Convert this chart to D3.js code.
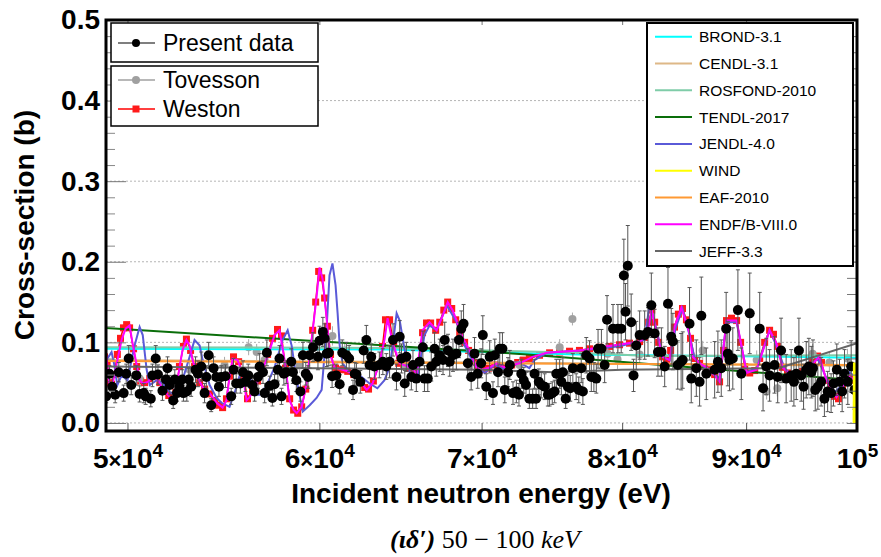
<!DOCTYPE html>
<html>
<head>
<meta charset="utf-8">
<script src="https://cdn.jsdelivr.net/npm/d3@7"></script>
<style>
body{margin:0;background:#fff}
svg{display:block}
text{font-family:"Liberation Sans",Arial,Helvetica,sans-serif}
</style>
</head>
<body>
<div id="chart"></div>
<script>
// energies in keV, cross-sections in barn
var presentData = [ // [E, sigma, err]
[49.00,0.033,0.008],[49.15,0.061,0.010],[49.28,0.045,0.012],[49.42,0.035,0.010],[49.59,0.063,0.012],
[49.82,0.037,0.010],[49.94,0.061,0.012],[50.06,0.080,0.016],[50.18,0.047,0.012],[50.42,0.059,0.012],
[50.58,0.036,0.010],[50.78,0.037,0.012],[50.87,0.033,0.010],[51.12,0.030,0.010],[51.20,0.059,0.014],
[51.36,0.080,0.016],[51.47,0.060,0.012],[51.69,0.040,0.012],[51.86,0.054,0.012],[51.94,0.068,0.014],
[52.05,0.047,0.012],[52.22,0.028,0.010],[52.30,0.054,0.012],[52.41,0.037,0.010],[52.53,0.045,0.012],
[52.67,0.054,0.012],[52.73,0.037,0.010],[52.90,0.039,0.012],[53.00,0.054,0.014],[53.12,0.045,0.012],
[53.34,0.066,0.016],[53.46,0.061,0.016],[53.63,0.070,0.018],[53.80,0.037,0.012],[53.89,0.057,0.014],
[54.01,0.084,0.016],[54.14,0.022,0.008],[54.26,0.068,0.014],[54.40,0.057,0.014],[54.54,0.045,0.012],
[54.66,0.057,0.014],[54.88,0.058,0.014],[55.18,0.033,0.010],[55.30,0.066,0.014],[55.44,0.049,0.012],
[55.66,0.049,0.012],[55.80,0.063,0.014],[55.93,0.051,0.012],[56.08,0.059,0.014],[56.30,0.047,0.012],
[56.42,0.039,0.012],[56.60,0.057,0.014],[56.69,0.070,0.016],[56.87,0.063,0.014],[56.96,0.037,0.012],
[57.08,0.087,0.016],[57.23,0.046,0.012],[57.38,0.031,0.010],[57.50,0.048,0.012],[57.68,0.066,0.014],
[57.77,0.080,0.016],[57.88,0.033,0.010],[58.01,0.061,0.014],[58.14,0.063,0.014],[58.42,0.076,0.016],
[58.51,0.063,0.014],[58.70,0.053,0.014],[58.93,0.039,0.012],[59.07,0.084,0.016],[59.23,0.061,0.014],
[59.36,0.057,0.014],[59.45,0.084,0.016],[59.64,0.094,0.018],[59.92,0.082,0.016],[60.01,0.102,0.018],
[60.20,0.113,0.018],[60.30,0.105,0.018],[60.42,0.086,0.016],[60.54,0.087,0.016],[60.73,0.058,0.014],
[60.97,0.059,0.014],[61.17,0.048,0.012],[61.32,0.087,0.016],[61.56,0.084,0.016],[61.72,0.080,0.016],
[61.95,0.041,0.012],[62.05,0.061,0.014],[62.15,0.060,0.014],[62.38,0.051,0.014],[62.58,0.090,0.016],
[62.74,0.103,0.018],[62.93,0.072,0.016],[63.03,0.082,0.016],[63.22,0.070,0.016],[63.52,0.072,0.016],
[63.73,0.076,0.016],[63.94,0.070,0.016],
[64.14,0.076,0.020],[64.35,0.103,0.020],[64.56,0.057,0.016],[64.76,0.107,0.020],[64.87,0.080,0.018],
[65.07,0.049,0.016],[65.17,0.082,0.018],[65.48,0.057,0.016],[65.58,0.072,0.018],[65.79,0.055,0.016],
[65.99,0.076,0.018],[66.20,0.094,0.020],[66.30,0.055,0.016],[66.51,0.055,0.016],[66.73,0.070,0.018],
[66.94,0.092,0.020],[67.05,0.076,0.018],[67.27,0.084,0.020],[67.48,0.078,0.018],[67.59,0.103,0.022],
[67.80,0.090,0.020],[67.91,0.076,0.018],[68.12,0.084,0.020],[68.34,0.086,0.020],[68.51,0.103,0.022],
[68.66,0.117,0.022],[68.81,0.123,0.024],[69.09,0.074,0.018],[69.31,0.057,0.016],[69.53,0.086,0.020],
[69.74,0.061,0.018],[69.97,0.074,0.018],[70.08,0.109,0.024],[70.31,0.045,0.016],[70.54,0.082,0.020],
[70.76,0.037,0.014],[70.88,0.084,0.020],[71.10,0.063,0.018],[71.22,0.092,0.020],[71.40,0.092,0.020],
[71.56,0.041,0.016],[71.78,0.063,0.018],[71.90,0.072,0.018],[72.12,0.037,0.014],[72.35,0.039,0.014],
[72.53,0.035,0.014],[72.69,0.061,0.018],[72.86,0.053,0.016],[73.02,0.047,0.016],[73.25,0.030,0.012],
[73.48,0.030,0.012],[73.61,0.061,0.018],[73.72,0.030,0.012],[73.91,0.051,0.016],[74.08,0.047,0.016],
[74.32,0.045,0.016],[74.55,0.035,0.014],[74.67,0.035,0.014],[74.86,0.037,0.014],[75.03,0.039,0.014],
[75.15,0.061,0.018],[75.39,0.061,0.018],[75.51,0.051,0.016],[75.62,0.063,0.018],[75.82,0.030,0.012],
[75.98,0.045,0.016],[76.15,0.043,0.016],[76.34,0.068,0.018],[76.58,0.045,0.016],[76.77,0.041,0.016],
[76.95,0.068,0.018],[77.07,0.039,0.016],[77.32,0.084,0.022],[77.56,0.080,0.022],[77.69,0.057,0.018],
[77.88,0.057,0.018],[78.06,0.055,0.018],[78.19,0.092,0.024],[78.44,0.092,0.024],[78.68,0.072,0.022],
[78.86,0.128,0.030],[79.31,0.117,0.030],[79.68,0.117,0.030],[79.93,0.117,0.030],[80.13,0.183,0.045],
[80.26,0.138,0.035],[80.43,0.195,0.050],[80.69,0.125,0.035],[80.87,0.059,0.020],[81.08,0.096,0.030],
[81.34,0.109,0.030],[81.73,0.109,0.030],[81.99,0.113,0.030],[82.25,0.146,0.040],[82.51,0.111,0.030],
[82.77,0.088,0.030],[83.04,0.088,0.030],[83.30,0.070,0.025],[83.56,0.148,0.045],[83.82,0.107,0.035],
[83.95,0.101,0.035],[84.34,0.072,0.030],
[84.61,0.076,0.035],[84.74,0.078,0.035],[85.29,0.123,0.045],[85.43,0.055,0.030],[85.84,0.068,0.035],
[86.11,0.051,0.030],[86.25,0.133,0.048],[86.66,0.061,0.032],[87.35,0.066,0.035],[87.62,0.076,0.038],
[87.90,0.068,0.035],[88.31,0.117,0.045],[88.45,0.086,0.040],[88.59,0.078,0.038],[88.87,0.080,0.038],
[89.30,0.140,0.050],[89.59,0.061,0.032],[90.31,0.136,0.050],[91.17,0.117,0.045],[91.46,0.043,0.028],
[91.74,0.070,0.035],[92.03,0.059,0.032],[92.46,0.072,0.035],[92.74,0.057,0.032],[93.04,0.090,0.040],
[93.49,0.055,0.030],[93.94,0.059,0.032],[94.18,0.051,0.030],[94.39,0.061,0.032],[94.63,0.090,0.040],
[94.84,0.059,0.032],[95.05,0.045,0.028],[95.29,0.066,0.035],[95.53,0.070,0.035],[95.75,0.063,0.032],
[95.90,0.068,0.035],[96.11,0.041,0.026],[96.35,0.045,0.028],[96.65,0.051,0.030],[96.95,0.030,0.022],
[97.25,0.039,0.025],[97.57,0.037,0.024],[97.79,0.049,0.028],[98.10,0.066,0.032],[98.35,0.051,0.028],
[98.60,0.039,0.025],[98.82,0.061,0.030],[99.13,0.051,0.028],[99.45,0.070,0.032],[99.76,0.041,0.024]
];

var tovesson = [ // [E, sigma, err]
[49.15,0.062,0.010],[50.58,0.055,0.010],[51.71,0.050,0.010],[53.04,0.066,0.010],[54.83,0.072,0.010],
[56.10,0.094,0.010],[56.53,0.088,0.010],[56.96,0.078,0.010],[58.89,0.072,0.010],[60.75,0.108,0.012],
[61.46,0.090,0.010],[63.05,0.078,0.010],[65.07,0.070,0.010],[67.14,0.082,0.010],[69.20,0.070,0.010],
[72.57,0.072,0.010],[75.39,0.094,0.010],[76.31,0.129,0.008],[78.91,0.086,0.012],[79.65,0.079,0.012],
[81.34,0.085,0.012],[86.36,0.090,0.012],[88.42,0.082,0.012],[90.91,0.078,0.012],[91.77,0.039,0.010],
[92.71,0.043,0.010],[95.87,0.086,0.012],[97.41,0.075,0.012],[99.10,0.080,0.012]
];

var weston = [
[48.92,0.082],[49.04,0.075],[49.15,0.050],[49.25,0.048],[49.38,0.060],[49.52,0.085],[49.67,0.105],[49.81,0.118],
[49.96,0.122],[50.10,0.118],[50.29,0.092],[50.44,0.070],[50.63,0.052],[50.82,0.050],[51.07,0.055],[51.31,0.058],
[51.56,0.050],[51.81,0.040],[52.00,0.034],[52.20,0.028],[52.35,0.038],[52.53,0.070],[52.73,0.095],[52.88,0.104],
[53.09,0.090],[53.29,0.070],[53.55,0.050],[53.80,0.042],[54.06,0.036],[54.32,0.028],[54.52,0.022],[54.73,0.019],
[54.93,0.030],[55.09,0.058],[55.30,0.082],[55.57,0.076],[55.83,0.058],[56.04,0.030],[56.31,0.038],[56.58,0.052],
[56.85,0.066],[57.12,0.085],[57.39,0.105],[57.66,0.116],[57.88,0.108],[58.10,0.068],[58.33,0.030],[58.55,0.016],
[58.78,0.012],[59.00,0.020],[59.23,0.042],[59.45,0.085],[59.62,0.115],[59.79,0.150],[59.96,0.188],[60.13,0.180],
[60.30,0.155],[60.46,0.120],[60.64,0.085],[60.93,0.068],[61.28,0.066],[61.64,0.064],[61.99,0.060],[62.34,0.052],
[62.64,0.044],[62.87,0.042],[63.16,0.052],[63.46,0.070],[63.71,0.095],[63.89,0.128],[64.14,0.128],[64.39,0.095],
[64.70,0.074],[65.01,0.070],[65.32,0.068],[65.63,0.066],[65.93,0.075],[66.18,0.112],[66.43,0.124],[66.69,0.124],
[67.01,0.115],[67.27,0.125],[67.53,0.140],[67.78,0.150],[68.04,0.142],[68.30,0.128],[68.56,0.112],[68.88,0.100],
[69.14,0.090],[69.46,0.075],[69.79,0.067],[70.13,0.066],[70.47,0.068],[70.88,0.072],[71.22,0.070],[71.63,0.068],
[72.03,0.072],[72.44,0.075],[72.84,0.078],[73.25,0.080],[73.96,0.084],[74.67,0.087],[75.39,0.088],[76.10,0.089],
[76.82,0.090],[77.56,0.092],[78.31,0.094],[79.06,0.095],[79.80,0.097],[80.56,0.099],[81.34,0.101],[81.73,0.106],
[82.04,0.125],[82.28,0.140],[82.51,0.125],[82.82,0.100],[83.14,0.082],[83.45,0.079],[83.77,0.090],[84.08,0.119],
[84.39,0.135],[84.72,0.142],[85.04,0.128],[85.37,0.105],[85.70,0.080],[86.11,0.074],[86.52,0.070],[86.94,0.066],
[87.35,0.060],[87.76,0.051],[88.09,0.090],[88.34,0.127],[88.76,0.130],[89.19,0.127],[89.53,0.100],[89.88,0.070],
[90.31,0.062],[90.74,0.065],[91.17,0.080],[91.60,0.100],[92.03,0.115],[92.37,0.110],[92.71,0.095],[93.16,0.069],
[93.61,0.062],[94.06,0.057],[94.51,0.060],[94.96,0.064],[95.42,0.067],[95.87,0.075],[96.32,0.083],[96.68,0.075],
[97.13,0.053],[97.50,0.040],[97.88,0.033],[98.26,0.030],[98.63,0.044],[99.01,0.052],[99.48,0.056],[99.86,0.053]
];

var brond = [[48.92,0.092],[64.0,0.091],[76.8,0.085],[100,0.081]];
var cendl = [[48.92,0.078],[70.0,0.075],[100,0.071]];
var rosfond = [[48.92,0.094],[64.0,0.093],[76.8,0.087],[82.1,0.083],[100,0.084]];
var tendl = [[48.92,0.118],[73.1,0.085],[100,0.053]];
var jendl = [
[48.92,0.059],[49.06,0.080],[49.25,0.088],[49.38,0.072],[49.52,0.047],[49.72,0.059],[50.00,0.053],[50.34,0.096],
[50.58,0.119],[50.73,0.109],[50.92,0.066],[51.07,0.047],[51.41,0.053],[51.71,0.049],[52.05,0.038],[52.43,0.035],
[52.68,0.053],[53.04,0.082],[53.29,0.103],[53.55,0.096],[53.70,0.078],[54.06,0.047],[54.42,0.031],[54.67,0.025],
[55.09,0.020],[55.41,0.041],[55.62,0.059],[55.89,0.066],[56.15,0.059],[56.42,0.035],[56.69,0.035],[57.07,0.047],
[57.50,0.069],[57.94,0.103],[58.22,0.115],[58.44,0.096],[58.72,0.053],[59.06,0.014],[59.45,0.022],[59.84,0.031],
[60.13,0.041],[60.41,0.115],[60.58,0.183],[60.75,0.198],[60.93,0.171],[61.05,0.136],[61.17,0.096],[61.34,0.074],
[61.76,0.062],[62.34,0.059],[62.93,0.049],[63.40,0.043],[63.83,0.053],[64.14,0.069],[64.33,0.096],[64.57,0.136],
[64.76,0.127],[65.07,0.090],[65.38,0.063],[65.87,0.057],[66.30,0.109],[66.62,0.121],[67.07,0.115],[67.72,0.146],
[68.36,0.125],[68.88,0.096],[69.53,0.072],[70.20,0.062],[70.88,0.072],[71.56,0.066],[72.10,0.075],[72.57,0.075],
[73.25,0.068],[73.61,0.078],[74.46,0.087],[76.82,0.090],[79.80,0.095],[81.73,0.103],[82.12,0.148],[82.67,0.115],
[83.14,0.082],[83.69,0.078],[84.16,0.117],[84.72,0.142],[85.29,0.109],[85.70,0.080],[86.52,0.069],[87.35,0.059],
[87.76,0.056],[88.34,0.125],[89.19,0.125],[90.05,0.063],[90.91,0.068],[92.03,0.115],[92.63,0.096],[93.34,0.068],
[94.24,0.057],[95.32,0.066],[96.32,0.080],[97.13,0.056],[97.88,0.038],[98.63,0.047],[99.29,0.063],[99.95,0.056]
];
var wind = [[99.75,0.0],[99.78,0.075]];
var eaf = [[48.92,0.077],[70.0,0.074],[100,0.072]];
var endf = [
[48.92,0.078],[49.02,0.080],[49.15,0.047],[49.30,0.049],[49.48,0.072],[49.72,0.103],[49.91,0.117],[50.10,0.121],
[50.24,0.099],[50.44,0.072],[50.58,0.053],[50.73,0.049],[50.97,0.051],[51.21,0.057],[51.41,0.056],[51.66,0.044],
[51.86,0.038],[52.05,0.032],[52.20,0.028],[52.43,0.053],[52.68,0.090],[52.88,0.103],[53.04,0.096],[53.19,0.078],
[53.44,0.057],[53.70,0.044],[54.06,0.037],[54.42,0.025],[54.73,0.019],[54.93,0.028],[55.09,0.057],[55.25,0.080],
[55.51,0.078],[55.78,0.062],[55.99,0.028],[56.15,0.032],[56.53,0.049],[56.85,0.066],[57.23,0.090],[57.50,0.109],
[57.77,0.115],[58.05,0.078],[58.33,0.028],[58.55,0.016],[58.72,0.012],[59.00,0.020],[59.28,0.049],[59.56,0.103],
[59.84,0.156],[60.01,0.193],[60.18,0.179],[60.41,0.131],[60.58,0.087],[60.87,0.069],[61.34,0.066],[61.93,0.062],
[62.46,0.049],[62.76,0.041],[63.11,0.049],[63.52,0.074],[63.83,0.103],[64.02,0.130],[64.33,0.099],[64.76,0.074],
[65.38,0.069],[65.81,0.062],[66.18,0.115],[66.62,0.125],[67.07,0.115],[67.46,0.133],[67.78,0.150],[68.10,0.140],
[68.36,0.127],[68.75,0.106],[69.20,0.090],[69.66,0.069],[70.06,0.066],[70.54,0.069],[71.02,0.074],[71.56,0.069],
[72.10,0.072],[72.57,0.074],[73.47,0.082],[74.46,0.087],[76.82,0.090],[79.28,0.096],[81.34,0.101],[81.89,0.108],
[82.28,0.140],[82.67,0.111],[83.14,0.082],[83.69,0.078],[84.08,0.119],[84.63,0.143],[85.29,0.111],[85.53,0.082],
[86.11,0.074],[86.69,0.069],[87.18,0.062],[87.76,0.051],[88.34,0.127],[89.19,0.127],[90.05,0.062],[90.91,0.066],
[92.03,0.115],[92.63,0.099],[93.16,0.069],[94.06,0.057],[95.32,0.066],[96.50,0.082],[97.13,0.053],[98.07,0.032],
[98.63,0.044],[99.29,0.057],[99.95,0.053]
];
var jeff = [[48.92,0.070],[60.0,0.068],[70.0,0.066],[75.0,0.063],[80.0,0.066],[92.8,0.068],[100,0.099]];

var libNames = ["BROND-3.1","CENDL-3.1","ROSFOND-2010","TENDL-2017","JENDL-4.0","WIND","EAF-2010","ENDF/B-VIII.0","JEFF-3.3"];
var libColors = ["#00ffff","#deb887","#7fcca8","#0a6e0a","#5a5ad8","#ffff00","#ff9933","#ff00ff","#666666"];
var libData = [brond,cendl,rosfond,tendl,jendl,wind,eaf,endf,jeff];

var xTickValues = [50,60,70,80,90,100];
var xTickMantissa = ["5","6","7","8","9",""];
var xTickExponent = ["4","4","4","4","4","5"];
var yTickValues = [0,0.1,0.2,0.3,0.4,0.5];
var yGridValues = [0,0.1,0.2,0.3,0.4];

var W=881, H=557;
var L=106, R=857, T=20, B=431;

var svg = d3.select("#chart").append("svg").attr("width",W).attr("height",H);

var x = d3.scaleLog().domain([48.99,100]).range([L,R]);
var y = d3.scaleLinear().domain([-0.01,0.5]).range([B,T]);

svg.append("defs").append("clipPath").attr("id","clip")
   .append("rect").attr("x",L).attr("y",T).attr("width",R-L).attr("height",B-T);

// grid
svg.append("g").selectAll("line").data(yGridValues).join("line")
   .attr("x1",L).attr("x2",R).attr("y1",d=>y(d)).attr("y2",d=>y(d))
   .attr("stroke","#b5b5b5").attr("stroke-width",1).attr("stroke-dasharray","2,2");

var plot = svg.append("g").attr("clip-path","url(#clip)");
var line = d3.line().x(d=>x(d[0])).y(d=>y(d[1]));

// Weston
plot.append("path").datum(weston).attr("d",line).attr("fill","none").attr("stroke","#ff0000").attr("stroke-width",1.5);
plot.append("g").selectAll("rect").data(weston).join("rect")
   .attr("x",d=>x(d[0])-3.5).attr("y",d=>y(d[1])-3.5).attr("width",7).attr("height",7)
   .attr("fill","#ff1a1a");

// Tovesson
var tov = plot.append("g");
tov.selectAll("line.eb").data(tovesson).join("line").attr("class","eb")
   .attr("x1",d=>x(d[0])).attr("x2",d=>x(d[0]))
   .attr("y1",d=>y(d[1]-d[2])).attr("y2",d=>y(d[1]+d[2]))
   .attr("stroke","#aaa").attr("stroke-width",1);
tov.selectAll("circle").data(tovesson).join("circle")
   .attr("cx",d=>x(d[0])).attr("cy",d=>y(d[1])).attr("r",4).attr("fill","#a0a0a0");

// evaluated libraries (WIND drawn later, it sits on the right edge)
libData.forEach((data,i)=>{
    if (libNames[i]=="WIND") return;
    plot.append("path").datum(data).attr("d",line)
        .attr("fill","none").attr("stroke",libColors[i]).attr("stroke-width",2);
});

// present data
var pd = plot.append("g");
pd.selectAll("line.eb").data(presentData).join("line").attr("class","eb")
   .attr("x1",d=>x(d[0])).attr("x2",d=>x(d[0]))
   .attr("y1",d=>y(d[1]-d[2])).attr("y2",d=>y(d[1]+d[2]))
   .attr("stroke","#555").attr("stroke-width",1);
pd.selectAll("line.cap1").data(presentData).join("line").attr("class","cap1")
   .attr("x1",d=>x(d[0])-2).attr("x2",d=>x(d[0])+2)
   .attr("y1",d=>y(d[1]-d[2])).attr("y2",d=>y(d[1]-d[2]))
   .attr("stroke","#555").attr("stroke-width",1);
pd.selectAll("line.cap2").data(presentData).join("line").attr("class","cap2")
   .attr("x1",d=>x(d[0])-2).attr("x2",d=>x(d[0])+2)
   .attr("y1",d=>y(d[1]+d[2])).attr("y2",d=>y(d[1]+d[2]))
   .attr("stroke","#555").attr("stroke-width",1);
pd.selectAll("circle").data(presentData).join("circle")
   .attr("cx",d=>x(d[0])).attr("cy",d=>y(d[1])).attr("r",5).attr("fill","#000");

plot.append("path").datum(wind).attr("d",line)
    .attr("fill","none").attr("stroke","#ffff00").attr("stroke-width",3.5);

// axes
var minorY = d3.range(0,0.5,0.02).filter(v=>Math.abs(v*10-Math.round(v*10))>1e-6);

var yAxis = svg.append("g").attr("transform","translate("+L+",0)")
   .call(d3.axisLeft(y).tickValues(yTickValues).tickSize(-20).tickPadding(6).tickFormat(d3.format(".1f")));
yAxis.select(".domain").remove();
yAxis.selectAll(".tick line").attr("stroke","#777");
yAxis.selectAll(".tick text").attr("font-size",28).attr("font-weight","bold")
   .attr("font-family","'Liberation Sans',Arial,sans-serif").attr("fill","#000");

var yMinor = svg.append("g").attr("transform","translate("+L+",0)")
   .call(d3.axisLeft(y).tickValues(minorY).tickSize(-9).tickFormat(""));
yMinor.select(".domain").remove();
yMinor.selectAll(".tick line").attr("stroke","#888");

var yRight = svg.append("g").attr("transform","translate("+R+",0)")
   .call(d3.axisRight(y).tickValues(minorY.concat(yTickValues)).tickSize(-10).tickFormat(""));
yRight.select(".domain").remove();
yRight.selectAll(".tick line").attr("stroke","#777");

var xAxis = svg.append("g").attr("transform","translate(0,"+B+")")
   .call(d3.axisBottom(x).tickValues(xTickValues).tickSize(-8).tickPadding(17).tickFormat(""));
xAxis.select(".domain").remove();
xAxis.selectAll(".tick line").attr("stroke","#555");
xAxis.selectAll(".tick text").each(function(d,i){
    var t = d3.select(this).attr("font-size",28).attr("font-weight","bold").attr("fill","#000")
        .attr("font-family","'Liberation Sans',Arial,sans-serif");
    if (xTickMantissa[i]) {
        t.append("tspan").text(xTickMantissa[i]);
        t.append("tspan").attr("font-size",22).text("\u00d7");
    }
    t.append("tspan").text("10");
    t.append("tspan").attr("font-size",19).attr("dy",-11).text(xTickExponent[i]);
});

var xTop = svg.append("g").attr("transform","translate(0,"+T+")")
   .call(d3.axisTop(x).tickValues(xTickValues).tickSize(-5).tickFormat(""));
xTop.select(".domain").remove();
xTop.selectAll(".tick line").attr("stroke","#777");

// titles
svg.append("text").attr("x",481).attr("y",503).attr("text-anchor","middle")
   .attr("font-size",28).attr("font-weight","bold").text("Incident neutron energy (eV)");
svg.append("text").attr("transform","translate(34,225) rotate(-90)").attr("text-anchor","middle")
   .attr("font-size",28).attr("font-weight","bold").text("Cross-section (b)");

var cap = svg.append("text").attr("x",485).attr("y",548).attr("text-anchor","middle")
   .attr("font-size",26).style("font-family","'Liberation Serif','DejaVu Serif',serif");
cap.append("tspan").attr("font-style","italic").attr("font-weight","bold").text("(\u03b9\u03b4\u2032)");
cap.append("tspan").text(" 50 \u2212 100 ");
cap.append("tspan").attr("font-style","italic").text("keV");

// legends
var leg1 = svg.append("g");
leg1.append("rect").attr("x",111).attr("y",23).attr("width",207).attr("height",39)
    .attr("fill","#fff").attr("stroke","#000").attr("stroke-width",1.5);
leg1.append("line").attr("x1",118).attr("x2",155).attr("y1",43).attr("y2",43).attr("stroke","#000").attr("stroke-width",1.2);
leg1.append("circle").attr("cx",136).attr("cy",43).attr("r",4).attr("fill","#000");
leg1.append("text").attr("x",163).attr("y",51).attr("font-size",23).text("Present data");

var leg2 = svg.append("g");
leg2.append("rect").attr("x",111).attr("y",66).attr("width",207).attr("height",60)
    .attr("fill","#fff").attr("stroke","#000").attr("stroke-width",1.5);
leg2.append("line").attr("x1",118).attr("x2",155).attr("y1",80).attr("y2",80).attr("stroke","#a0a0a0").attr("stroke-width",1.5);
leg2.append("circle").attr("cx",136).attr("cy",80).attr("r",4).attr("fill","#a0a0a0");
leg2.append("text").attr("x",163).attr("y",88).attr("font-size",23).text("Tovesson");
leg2.append("line").attr("x1",118).attr("x2",155).attr("y1",109).attr("y2",109).attr("stroke","#ff0000").attr("stroke-width",1.5);
leg2.append("rect").attr("x",132.5).attr("y",105.5).attr("width",7).attr("height",7).attr("fill","#ff1a1a");
leg2.append("text").attr("x",163).attr("y",117).attr("font-size",23).text("Weston");

var leg3 = svg.append("g");
leg3.append("rect").attr("x",647).attr("y",23).attr("width",206).attr("height",243)
    .attr("fill","#fff").attr("stroke","#000").attr("stroke-width",2);
libNames.forEach((name,i)=>{
    var cy = 36.7 + i*26.8;
    leg3.append("line").attr("x1",655).attr("x2",692).attr("y1",cy).attr("y2",cy)
        .attr("stroke",libColors[i]).attr("stroke-width",2);
    leg3.append("text").attr("x",699).attr("y",cy+5.5).attr("font-size",15.5).text(name);
});

// frame
svg.append("rect").attr("x",L).attr("y",T).attr("width",R-L).attr("height",B-T)
   .attr("fill","none").attr("stroke","#000").attr("stroke-width",3);
</script>
</body>
</html>
